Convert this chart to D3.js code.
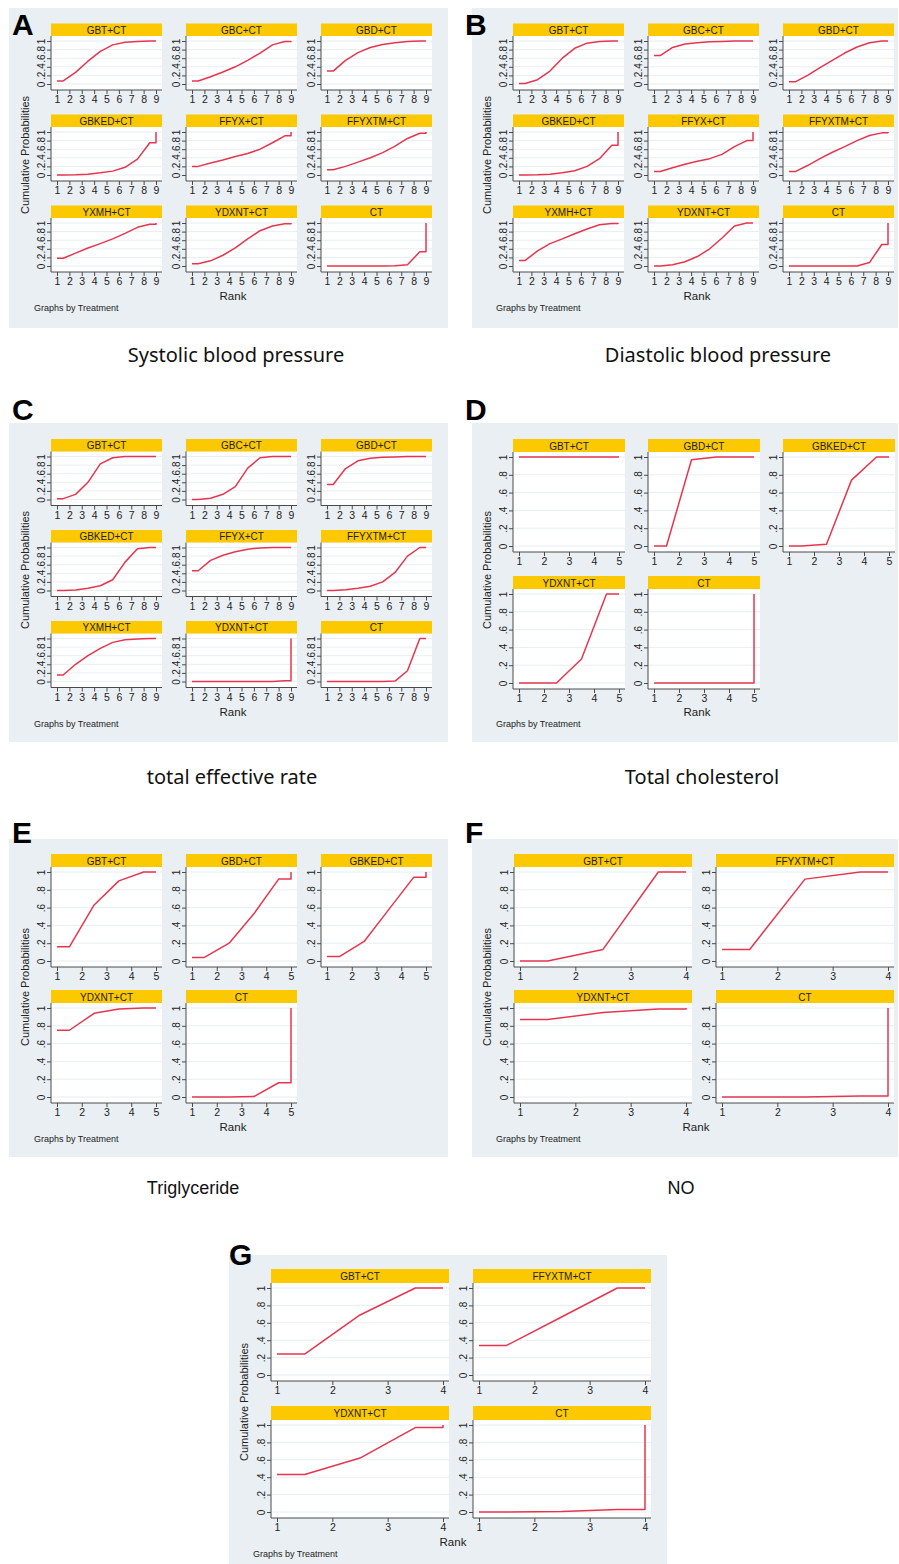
<!DOCTYPE html>
<html>
<head>
<meta charset="utf-8">
<script src="https://cdn.jsdelivr.net/npm/d3@7"></script>
<style>
  html, body { margin: 0; padding: 0; background: #ffffff; }
  svg { display: block; }
</style>
</head>
<body>
<svg id="fig" width="899" height="1564"></svg>
<script>
// ---------------- DATA (cumulative probabilities at rank 1..n) ----------------
const yTickValues = [0, 0.2, 0.4, 0.6, 0.8, 1];
const yTickLabels = ["0", ".2", ".4", ".6", ".8", "1"];

// A  Systolic blood pressure (9 ranks)
const treatmentsA = ["GBT+CT","GBC+CT","GBD+CT","GBKED+CT","FFYX+CT","FFYXTM+CT","YXMH+CT","YDXNT+CT","CT"];
const cumA = [
  [0.07,0.27,0.53,0.76,0.91,0.97,0.99,1.00,1],
  [0.07,0.17,0.28,0.40,0.55,0.72,0.91,0.99,1],
  [0.30,0.55,0.73,0.85,0.92,0.96,0.99,1.00,1],
  [0.00,0.005,0.02,0.05,0.09,0.18,0.37,0.75,1],
  [0.20,0.28,0.35,0.43,0.50,0.60,0.75,0.91,1],
  [0.12,0.20,0.30,0.40,0.52,0.67,0.85,0.97,1],
  [0.18,0.30,0.42,0.52,0.63,0.76,0.90,0.97,1],
  [0.05,0.12,0.25,0.42,0.63,0.82,0.93,0.98,1],
  [0.00,0.00,0.00,0.00,0.00,0.005,0.03,0.33,1]
];

// B  Diastolic blood pressure (9 ranks)
const treatmentsB = ["GBT+CT","GBC+CT","GBD+CT","GBKED+CT","FFYX+CT","FFYXTM+CT","YXMH+CT","YDXNT+CT","CT"];
const cumB = [
  [0.01,0.10,0.30,0.60,0.83,0.95,0.99,1.00,1],
  [0.66,0.85,0.93,0.96,0.98,0.99,1.00,1.00,1],
  [0.05,0.20,0.38,0.55,0.72,0.86,0.96,1.00,1],
  [0.00,0.005,0.02,0.05,0.10,0.20,0.38,0.69,1],
  [0.08,0.17,0.25,0.32,0.38,0.48,0.66,0.80,1],
  [0.08,0.22,0.38,0.53,0.66,0.80,0.92,0.98,1],
  [0.13,0.35,0.52,0.63,0.75,0.86,0.96,0.99,1],
  [0.00,0.03,0.10,0.22,0.40,0.65,0.93,1.00,1],
  [0.00,0.00,0.00,0.00,0.00,0.00,0.08,0.50,1]
];

// C  total effective rate (9 ranks)
const treatmentsC = ["GBT+CT","GBC+CT","GBD+CT","GBKED+CT","FFYX+CT","FFYXTM+CT","YXMH+CT","YDXNT+CT","CT"];
const cumC = [
  [0.02,0.12,0.40,0.83,0.97,1.00,1.00,1.00,1],
  [0.00,0.03,0.12,0.30,0.73,0.97,1.00,1.00,1],
  [0.35,0.72,0.90,0.96,0.98,0.99,1.00,1.00,1],
  [0.00,0.01,0.05,0.11,0.25,0.66,0.97,1.00,1],
  [0.46,0.70,0.82,0.90,0.96,0.99,1.00,1.00,1],
  [0.00,0.02,0.05,0.10,0.20,0.42,0.80,1.00,1],
  [0.15,0.40,0.60,0.77,0.91,0.97,0.99,1.00,1],
  [0.00,0.00,0.00,0.00,0.00,0.00,0.00,0.02,1],
  [0.00,0.00,0.00,0.00,0.00,0.01,0.25,1.00,1]
];

// D  Total cholesterol (5 ranks)
const treatmentsD = ["GBT+CT","GBD+CT","GBKED+CT","YDXNT+CT","CT"];
const cumD = [
  [1.00,1.00,1.00,1.00,1],
  [0.00,0.97,1.00,1.00,1],
  [0.00,0.02,0.74,1.00,1],
  [0.00,0.00,0.27,1.00,1],
  [0.00,0.00,0.00,0.00,1]
];

// E  Triglyceride (5 ranks)
const treatmentsE = ["GBT+CT","GBD+CT","GBKED+CT","YDXNT+CT","CT"];
const cumE = [
  [0.16,0.63,0.90,1.00,1],
  [0.04,0.20,0.53,0.92,1],
  [0.05,0.22,0.58,0.94,1],
  [0.75,0.94,0.99,1.00,1],
  [0.00,0.00,0.005,0.16,1]
];

// F  NO (4 ranks)
const treatmentsF = ["GBT+CT","FFYXTM+CT","YDXNT+CT","CT"];
const cumF = [
  [0.00,0.13,1.00,1],
  [0.13,0.92,1.00,1],
  [0.87,0.95,0.99,1],
  [0.00,0.00,0.01,1]
];

// G  (4 ranks)
const treatmentsG = ["GBT+CT","FFYXTM+CT","YDXNT+CT","CT"];
const cumG = [
  [0.24,0.69,1.00,1],
  [0.34,0.67,1.00,1],
  [0.43,0.62,0.97,1],
  [0.00,0.005,0.03,1]
];

const panelTitles = ["Systolic blood pressure","Diastolic blood pressure","total effective rate","Total cholesterol","Triglyceride","NO",""];

// ---------------- STYLE ----------------
const BG = "#e9eff2";
const HEADER = "#fcc800";
const LINE = "#e6364f";
const GRID = "#e8eef1";
const AXIS = "#4a4a4a";
const TXT = "#222222";
const SANS = "Liberation Sans, Arial, Helvetica, sans-serif";

const svg = d3.select("#fig");

const panels = [
  {letter:"A", lx:12, ly:35, bg:[9,8,439,320], names:treatmentsA, cum:cumA, cols:3, ax0:51, colStep:135, plotW:111, hy0:23.5, rowStep:91, hH:12.5, pH:54,
   rank:[233,300], gbt:[34,311], ylab:[25,155], title:panelTitles[0], tpos:[236,362], tfont:"Noto Sans", tsize:20},
  {letter:"B", lx:465, ly:35, bg:[472,8,426,320], names:treatmentsB, cum:cumB, cols:3, ax0:513, colStep:135, plotW:111, hy0:23.5, rowStep:91, hH:12.5, pH:54,
   rank:[697,300], gbt:[496,311], ylab:[487,155], title:panelTitles[1], tpos:[718,362], tfont:"Noto Sans", tsize:20},
  {letter:"C", lx:12, ly:420, bg:[9,423,439,319], names:treatmentsC, cum:cumC, cols:3, ax0:51, colStep:135, plotW:111, hy0:439, rowStep:91, hH:12.5, pH:54,
   rank:[233,716], gbt:[34,727], ylab:[25,570], title:panelTitles[2], tpos:[232,784], tfont:"Noto Sans", tsize:20},
  {letter:"D", lx:465, ly:420, bg:[472,423,426,319], names:treatmentsD, cum:cumD, cols:3, ax0:513, colStep:135, plotW:112, hy0:439, rowStep:137, hH:13, pH:100,
   rank:[697,716], gbt:[496,727], ylab:[487,570], title:panelTitles[3], tpos:[702,784], tfont:"Noto Sans", tsize:20},
  {letter:"E", lx:12, ly:843, bg:[9,839,439,318], names:treatmentsE, cum:cumE, cols:3, ax0:51, colStep:135, plotW:111, hy0:854, rowStep:136, hH:13, pH:100,
   rank:[233,1131], gbt:[34,1142], ylab:[25,987], title:panelTitles[4], tpos:[193,1194], tfont:SANS, tsize:18},
  {letter:"F", lx:465, ly:843, bg:[472,839,426,318], names:treatmentsF, cum:cumF, cols:2, ax0:514, colStep:202, plotW:178, hy0:854, rowStep:136, hH:13, pH:100,
   rank:[696,1131], gbt:[496,1142], ylab:[487,987], title:panelTitles[5], tpos:[681,1194], tfont:SANS, tsize:18},
  {letter:"G", lx:229, ly:1265, bg:[229,1255,438,309], names:treatmentsG, cum:cumG, cols:2, ax0:271, colStep:202, plotW:178, hy0:1269, rowStep:137, hH:14, pH:98,
   rank:[453,1546], gbt:[253,1557], ylab:[244,1402], title:panelTitles[6], tpos:[0,0], tfont:SANS, tsize:18}
];

function curvePoints(c) {
  const n = c.length;
  const pts = [[1, c[0]], [1.5, c[0]]];
  for (let i = 2; i <= n - 1; i++) pts.push([i + 0.5, c[i - 1]]);
  pts.push([n, c[n - 2]]);
  pts.push([n, c[n - 1]]);
  return pts;
}

panels.forEach(p => {
  const g = svg.append("g");
  g.append("rect").attr("x", p.bg[0]).attr("y", p.bg[1]).attr("width", p.bg[2]).attr("height", p.bg[3]).attr("fill", BG);

  p.names.forEach((name, idx) => {
    const col = idx % p.cols, row = Math.floor(idx / p.cols);
    const ax = p.ax0 + col * p.colStep;
    const hTop = p.hy0 + row * p.rowStep;
    const pTop = hTop + p.hH;
    const ay = pTop + p.pH;
    const vals = p.cum[idx];
    const n = vals.length;
    const x = d3.scaleLinear().domain([1, n]).range([ax + 6, ax + p.plotW - 6]);
    const y = d3.scaleLinear().domain([0, 1]).range([ay - 6, pTop + 5]);
    const sg = g.append("g");

    sg.append("rect").attr("x", ax).attr("y", pTop).attr("width", p.plotW).attr("height", p.pH).attr("fill", "#ffffff");
    sg.append("rect").attr("x", ax).attr("y", hTop).attr("width", p.plotW).attr("height", p.hH).attr("fill", HEADER);
    sg.append("text").attr("x", ax + p.plotW / 2).attr("y", hTop + p.hH / 2 + 0.5)
      .attr("text-anchor", "middle").attr("dominant-baseline", "central")
      .attr("font-family", SANS).attr("font-size", 10).attr("fill", TXT).text(name);

    // gridlines
    sg.selectAll("line.grid").data(yTickValues).enter().append("line")
      .attr("x1", ax + 1).attr("x2", ax + p.plotW).attr("y1", d => y(d)).attr("y2", d => y(d))
      .attr("stroke", GRID).attr("stroke-width", 1);

    // x axis
    const xa = sg.append("g").attr("transform", `translate(0,${ay})`)
      .call(d3.axisBottom(x).tickValues(d3.range(1, n + 1)).tickFormat(d3.format("d")).tickSize(4).tickPadding(2));
    xa.select(".domain").remove();
    xa.selectAll(".tick line").attr("stroke", AXIS);
    xa.selectAll(".tick text").attr("font-family", SANS).attr("font-size", 10.5).attr("fill", TXT);

    // y axis
    const ya = sg.append("g").attr("transform", `translate(${ax},0)`)
      .call(d3.axisLeft(y).tickValues(yTickValues).tickFormat((d, i) => yTickLabels[i]).tickSize(4));
    ya.select(".domain").remove();
    ya.selectAll(".tick line").attr("stroke", AXIS);
    ya.selectAll(".tick text").attr("font-family", SANS).attr("font-size", 10).attr("fill", TXT)
      .attr("text-anchor", "middle").attr("dy", null).attr("dominant-baseline", "auto")
      .attr("x", 0).attr("y", 0)
      .attr("transform", "translate(-6,0) rotate(-90)");

    sg.append("line").attr("x1", ax).attr("x2", ax + p.plotW).attr("y1", ay).attr("y2", ay).attr("stroke", AXIS).attr("stroke-width", 1);
    sg.append("line").attr("x1", ax).attr("x2", ax).attr("y1", pTop).attr("y2", ay).attr("stroke", AXIS).attr("stroke-width", 1);

    const line = d3.line().x(d => x(d[0])).y(d => y(d[1]));
    sg.append("path").attr("d", line(curvePoints(vals))).attr("fill", "none")
      .attr("stroke", LINE).attr("stroke-width", 1.5).attr("stroke-linejoin", "round");
  });

  g.append("text").attr("x", p.rank[0]).attr("y", p.rank[1]).attr("text-anchor", "middle")
    .attr("font-family", SANS).attr("font-size", 11.5).attr("fill", TXT).text("Rank");
  g.append("text").attr("x", p.gbt[0]).attr("y", p.gbt[1])
    .attr("font-family", SANS).attr("font-size", 9).attr("fill", TXT).text("Graphs by Treatment");
  g.append("text").attr("transform", `translate(${p.ylab[0] + 4},${p.ylab[1]}) rotate(-90)`).attr("text-anchor", "middle")
    .attr("font-family", SANS).attr("font-size", 11).attr("fill", TXT).text("Cumulative Probabilities");

  svg.append("text").attr("x", p.lx).attr("y", p.ly).attr("font-family", SANS).attr("font-weight", "bold")
    .attr("font-size", 30).attr("fill", "#000").text(p.letter);

  if (p.title) {
    svg.append("text").attr("x", p.tpos[0]).attr("y", p.tpos[1]).attr("text-anchor", "middle")
      .attr("font-family", p.tfont).attr("font-size", p.tsize).attr("fill", "#111").text(p.title);
  }
});
</script>
</body>
</html>
